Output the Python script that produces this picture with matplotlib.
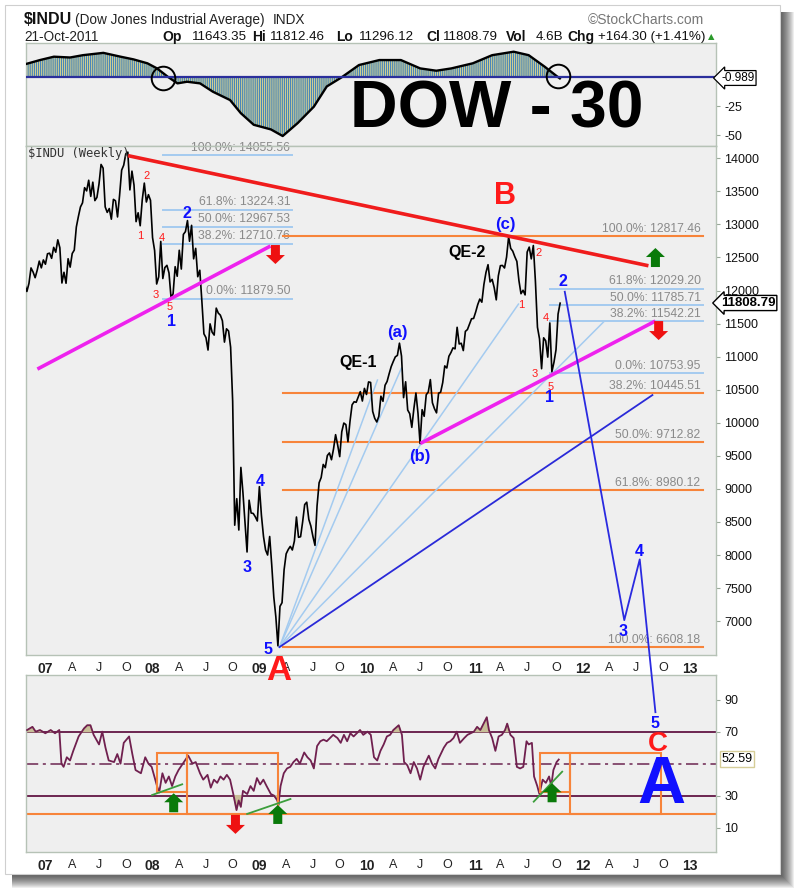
import numpy as np
import pandas as pd
import matplotlib
matplotlib.use('Agg')
import matplotlib.pyplot as plt
from matplotlib.patches import Rectangle, Polygon
from matplotlib import transforms

plt.rcParams['font.family'] = ['Liberation Sans', 'DejaVu Sans']

# ---------------- data ----------------
weekly_close = [
    # 2006 (from 27-Oct)
    12090, 11986, 12108, 12342, 12280, 12194, 12307, 12445, 12343, 12463,
    # 2007
    12398, 12556, 12565, 12487, 12653, 12580, 12767, 12647, 12114, 12276, 12110, 12481, 12354,
    12560, 12612, 12961, 13120, 13264, 13326, 13556, 13507, 13668, 13424, 13639, 13360, 13409,
    13611, 13907, 13851, 13265, 13182, 13240, 13079, 13379, 13358, 13113, 13442, 13821, 13896,
    14066, 14093, 13522, 13806, 13595, 13042, 13176, 12980, 13372, 13625, 13339, 13450, 13365,
    # 2008
    12800, 12606, 12099, 12207, 12743, 12182, 12348, 12381, 12266, 11894, 11951, 12361, 12216,
    12609, 12325, 12849, 12891, 13058, 12745, 12986, 12480, 12638, 12209, 12307, 11843, 11346,
    11288, 11100, 11496, 11370, 11326, 11734, 11659, 11628, 11543, 11220, 11421, 11388, 11143,
    10325, 8451, 8852, 8378, 9325, 8943, 8497, 8046, 8829, 8635, 8629, 8579, 8515,
    # 2009
    9034, 8599, 8281, 8077, 8000, 8280, 7850, 7366, 7063, 6627, 7224, 7279, 7776,
    8018, 8083, 8131, 8076, 8212, 8575, 8268, 8277, 8500, 8763, 8799, 8539, 8438,
    8280, 8146, 8743, 9093, 9172, 9370, 9321, 9505, 9544, 9441, 9605, 9820, 9665,
    9488, 9865, 9996, 9972, 9713, 10023, 10271, 10318, 10310, 10389, 10471, 10329, 10520,
    # 2010
    10428, 10618, 10610, 10173, 10067, 10012, 10099, 10402, 10325, 10567, 10625, 10742, 10850,
    10927, 10997, 11019, 11204, 11009, 10380, 10620, 10193, 10137, 9931, 10212, 10450, 10144,
    9686, 10198, 10098, 10424, 10466, 10653, 10303, 10213, 10150, 10448, 10462, 10607, 10860,
    10829, 11006, 11062, 11133, 11118, 11444, 11192, 11203, 11092, 11382, 11410, 11491, 11573, 11578,
    # 2011
    11675, 11787, 11871, 11824, 12092, 12273, 12391, 12130, 12169, 12044, 11859, 12221,
    12376, 12380, 12341, 12505, 12811, 12638, 12596, 12512, 12441, 12151, 11952, 12004, 11934,
    12582, 12657, 12479, 12681, 12143, 11445, 11269, 10818, 11285, 11240, 10993, 11510, 10771, 10913,
    11103, 11644, 11809,
]
last_date = '2011-10-21'

osc_t = [2006.83, 2006.96, 2007.09, 2007.24, 2007.36, 2007.55, 2007.71, 2007.83, 2007.96, 2008.05,
         2008.15, 2008.24, 2008.33, 2008.45, 2008.57, 2008.73, 2008.83, 2008.95, 2009.11, 2009.22,
         2009.36, 2009.51, 2009.63, 2009.77, 2009.93, 2010.12, 2010.32, 2010.50, 2010.65, 2010.79,
         2010.99, 2011.17, 2011.37, 2011.51, 2011.66, 2011.77, 2011.80]
osc_v = [11.4, 14.8, 17.7, 17.0, 19.0, 21.0, 17.7, 15.4, 12.0, 7.6,
         0.4, -5.3, -3.9, -5.3, -12.5, -19.7, -31.0, -41.0, -45.0, -50.7,
         -39.5, -25.4, -8.0, 0.0, 10.5, 14.8, 14.8, 7.6, 5.6, 7.6,
         12.0, 19.0, 22.0, 19.0, 9.0, 1.0, -0.989]

rsi_t = [2006.84, 2006.89, 2006.92, 2006.96, 2007.01, 2007.06, 2007.10, 2007.14, 2007.16, 2007.18,
         2007.21, 2007.24, 2007.27, 2007.32, 2007.37, 2007.40, 2007.43, 2007.46, 2007.51, 2007.54,
         2007.57, 2007.60, 2007.65, 2007.68, 2007.71, 2007.74, 2007.79, 2007.82, 2007.85, 2007.90,
         2007.94, 2007.97, 2008.00, 2008.05, 2008.07, 2008.10, 2008.13, 2008.16, 2008.19, 2008.22,
         2008.25, 2008.28, 2008.31, 2008.34, 2008.38, 2008.41, 2008.45, 2008.48, 2008.52, 2008.55,
         2008.58, 2008.61, 2008.64, 2008.67, 2008.70, 2008.73, 2008.76, 2008.79, 2008.81, 2008.83,
         2008.85, 2008.89, 2008.92, 2008.95, 2008.98, 2009.01, 2009.04, 2009.07, 2009.11, 2009.14,
         2009.17, 2009.18, 2009.20, 2009.23, 2009.26, 2009.29, 2009.32, 2009.35, 2009.38, 2009.42,
         2009.45, 2009.48, 2009.51, 2009.54, 2009.57, 2009.60, 2009.63, 2009.66, 2009.69, 2009.73,
         2009.76, 2009.79, 2009.82, 2009.85, 2009.88, 2009.91, 2009.94, 2009.97, 2010.01, 2010.04,
         2010.07, 2010.10, 2010.13, 2010.16, 2010.19, 2010.22, 2010.25, 2010.30, 2010.33, 2010.35,
         2010.38, 2010.41, 2010.44, 2010.47, 2010.50, 2010.53, 2010.58, 2010.61, 2010.64, 2010.67,
         2010.72, 2010.75, 2010.78, 2010.81, 2010.84, 2010.87, 2010.91, 2010.94, 2010.97, 2011.00,
         2011.03, 2011.06, 2011.09, 2011.12, 2011.14, 2011.17, 2011.20, 2011.23, 2011.26, 2011.29,
         2011.31, 2011.34, 2011.37, 2011.40, 2011.43, 2011.46, 2011.49, 2011.51, 2011.54, 2011.56,
         2011.59, 2011.61, 2011.64, 2011.67, 2011.70, 2011.72, 2011.74, 2011.77, 2011.79]
rsi_v = [71, 73, 70, 71, 69, 71, 69, 71, 50, 48,
         54, 52, 58, 67, 72, 74, 74, 68, 62, 70,
         60, 52, 51, 56, 50, 63, 67, 56, 46, 44,
         54, 50, 48, 36, 32, 44, 38, 42, 36, 42,
         46, 49, 52, 55, 50, 51, 44, 40, 43, 35,
         40, 38, 42, 40, 43, 40, 31, 21, 27, 23,
         33, 31, 36, 33, 41, 37, 40, 36, 31, 30,
         27, 24, 36, 44, 47, 48, 51, 53, 50, 57,
         54, 52, 47, 61, 64, 65, 64, 66, 68, 66,
         63, 68, 64, 69, 67, 69, 71, 68, 70, 68,
         54, 52, 58, 62, 67, 68, 71, 74, 68, 51,
         49, 44, 51, 47, 40, 48, 55, 50, 47, 53,
         60, 63, 64, 66, 70, 63, 66, 68, 69, 70,
         73, 71, 75, 79, 71, 66, 58, 67, 68, 71,
         75, 68, 66, 48, 47, 48, 64, 62, 63, 42,
         36, 31, 40, 38, 42, 36, 46, 51, 52.59]

fib1_levels = [14055.56, 13224.31, 12967.53, 12710.76, 11879.50]
fib1_names = ['100.0%', '61.8%', '50.0%', '38.2%', '0.0%']
fib1_span = [2008.11, 2009.31]
fib2_levels = [12029.20, 11785.71, 11542.21, 10753.95]
fib2_names = ['61.8%', '50.0%', '38.2%', '0.0%']
fib2_span = [2011.71, 2013.13]
ret_levels = [12817.46, 10445.51, 9712.82, 8980.12, 6608.18]
ret_names = ['100.0%', '38.2%', '50.0%', '61.8%', '100.0%']
ret_span = [2009.22, 2013.13]

red_trend_t = [2007.78, 2012.625]
red_trend_p = [14040, 12375]
mag1_t = [2006.936, 2009.106]
mag1_p = [10812, 12673]
mag2_t = [2010.502, 2012.69]
mag2_p = [9688, 11539]
fan_origin = (2009.19, 6608)
fan_end_t = [2010.102, 2010.325, 2011.415, 2012.206]
fan_end_p = [10646, 10827, 11795, 11523]
fan_dark_end = (2012.662, 10419)
proj_t = [2011.846, 2012.40, 2012.544, 2012.69]
proj_p = [11982, 7015, 7934, 5623]

rsi_boxes = [(2008.054, 2008.333, 32.1, 56.5), (2008.333, 2009.18, 18.6, 56.5),
             (2011.62, 2011.899, 32.1, 56.5), (2011.899, 2012.746, 18.6, 56.5)]
rsi_base = 18.6
div_lines = [([2008.004, 2008.284], [30.4, 37.1]),
             ([2008.889, 2009.292], [18.6, 27.9]),
             ([2011.557, 2011.822], [26.25, 45.0])]

# ---------------- figure ----------------
W, H = 800, 893
fig = plt.figure(figsize=(8, 8.93), dpi=100)
fig.patch.set_facecolor('white')


def prect(x0, y0, x1, y1, **kw):
    r = Rectangle((x0 / W, 1 - y1 / H), (x1 - x0) / W, (y1 - y0) / H,
                  transform=fig.transFigure, **kw)
    fig.add_artist(r)
    return r


def ftext(x, y, s, **kw):
    kw.setdefault('ha', 'center')
    kw.setdefault('va', 'center')
    return fig.text(x / W, 1 - y / H, s, **kw)


# card + shadow
for k in range(14):
    prect(12, 12, 781 + k, 875 + k, facecolor='black', alpha=0.065, edgecolor='none', zorder=-20)
prect(5, 5, 780, 874, facecolor='white', edgecolor='#cfcfcf', lw=0.8, zorder=-10)

XL, XR = 2006.83, 2013.254
panel_bg = '#efefef'
spine_c = '#b6c2b6'


def style(ax):
    ax.set_facecolor(panel_bg)
    for s in ax.spines.values():
        s.set_color(spine_c)
        s.set_linewidth(1.0)
    ax.set_xlim(XL, XR)
    ax.yaxis.tick_right()
    ax.tick_params(axis='y', length=3, color='#9aa89a', labelsize=9, pad=3, labelcolor='#111')
    ax.tick_params(axis='x', length=0)


ax_top = fig.add_axes([26 / W, 1 - 146 / H, 690 / W, 103 / H])
ax_main = fig.add_axes([26 / W, 1 - 655 / H, 690 / W, 509 / H])
ax_rsi = fig.add_axes([26 / W, 1 - 852 / H, 690 / W, 177 / H])
ax_main.set_zorder(2)
for a in (ax_top, ax_main, ax_rsi):
    style(a)

# dates
dates = pd.date_range(end=last_date, periods=len(weekly_close), freq='W-FRI')


def dec_year(ts):
    start = pd.Timestamp(ts.year, 1, 1)
    end = pd.Timestamp(ts.year + 1, 1, 1)
    return ts.year + (ts - start).days / (end - start).days


t_price = np.array([dec_year(d) for d in dates])
price = np.array(weekly_close, dtype=float)

# x ticks: first Friday of each quarter
tick_pos, tick_lab, tick_bold = [], [], []
for yr in range(2007, 2014):
    for m, lab in [(1, None), (4, 'A'), (7, 'J'), (10, 'O')]:
        d = pd.Timestamp(yr, m, 1)
        d = d + pd.Timedelta(days=(4 - d.weekday()) % 7)
        tv = dec_year(d)
        if XL < tv < XR:
            tick_pos.append(tv)
            tick_lab.append('%02d' % (yr % 100) if lab is None else lab)
            tick_bold.append(lab is None)

for a in (ax_top, ax_main, ax_rsi):
    a.set_xticks(tick_pos)
for a in (ax_main, ax_rsi):
    a.set_xticklabels(tick_lab)
    a.tick_params(axis='x', pad=5, labelsize=9, labelcolor='#222')
    for lbl, b in zip(a.get_xticklabels(), tick_bold):
        if b:
            lbl.set_fontweight('bold')
            lbl.set_fontsize(10)
ax_top.set_xticklabels([])

# ---------------- top panel ----------------
plt.rcParams['hatch.linewidth'] = 0.9
ax_top.set_ylim(-59.3, 29.5)
ax_top.fill_between(osc_t, 0, osc_v, facecolor='#e9dc8c', edgecolor='#4a86b8',
                    hatch='|' * 8, linewidth=0, zorder=2)
ax_top.plot(osc_t, osc_v, color='black', lw=1.7, zorder=3)
ax_top.axhline(0, color='#2b2f9c', lw=1.6, zorder=4)
for ct, cv in [(2008.11, -0.7), (2011.78, 1.0)]:
    ax_top.plot([ct], [cv], marker='o', ms=17, mfc='none', mec='black', mew=1.4, zorder=5)
ax_top.set_yticks([-25, -50])
ax_top.set_yticklabels(['-25', '-50'])
ftext(738, 78, '-0.989', fontsize=8.5,
      bbox=dict(boxstyle='larrow,pad=0.12', fc='white', ec='black', lw=0.9))
ftext(497, 110, 'DOW - 30', fontsize=47.5, fontweight='bold', color='black')

# ---------------- main panel ----------------
ax_main.set_ylim(6488, 14186)
ax_main.set_yticks(np.arange(7000, 14001, 500))
ax_main.set_yticklabels([str(v) for v in range(7000, 14001, 500)])
ax_main.plot(t_price, price, color='black', lw=1.2, zorder=3)

orange = '#f7843a'
lightblue = '#a4cbf0'
fibtxt = '#8a8a8a'
for lv, nm in zip(fib1_levels, fib1_names):
    ax_main.plot(fib1_span, [lv, lv], color=lightblue, lw=1.4, zorder=2)
    ax_main.annotate('%s: %.2f' % (nm, lv), (2009.29, lv), xytext=(0, 0.8),
                     textcoords='offset points', ha='right', va='bottom',
                     fontsize=8.7, color=fibtxt, zorder=2)
for lv, nm in zip(fib2_levels, fib2_names):
    ax_main.plot(fib2_span, [lv, lv], color=lightblue, lw=1.4, zorder=2)
    ax_main.annotate('%s: %.2f' % (nm, lv), (2013.11, lv), xytext=(0, 0.8),
                     textcoords='offset points', ha='right', va='bottom',
                     fontsize=8.7, color=fibtxt, zorder=2)
for lv, nm in zip(ret_levels, ret_names):
    ax_main.plot(ret_span, [lv, lv], color=orange, lw=1.5, zorder=2)
    ax_main.annotate('%s: %.2f' % (nm, lv), (2013.11, lv), xytext=(0, 0.8),
                     textcoords='offset points', ha='right', va='bottom',
                     fontsize=8.7, color=fibtxt, zorder=2)

for et, ep in zip(fan_end_t, fan_end_p):
    ax_main.plot([fan_origin[0], et], [fan_origin[1], ep], color=lightblue, lw=1.1, zorder=2)
ax_main.plot([fan_origin[0], fan_dark_end[0]], [fan_origin[1], fan_dark_end[1]],
             color='#2a2ad8', lw=1.3, zorder=2)

ax_main.plot(red_trend_t, red_trend_p, color='#f01c1c', lw=2.6, zorder=4, solid_capstyle='butt')
ax_main.plot(mag1_t, mag1_p, color='#ee22ee', lw=2.6, zorder=4, solid_capstyle='butt')
ax_main.plot(mag2_t, mag2_p, color='#ee22ee', lw=2.6, zorder=4, solid_capstyle='butt')
ax_main.plot(proj_t, proj_p, color='#2a2ae0', lw=1.3, zorder=5, clip_on=False)

ax_main.text(0.003, 0.985, '$INDU (Weekly)', transform=ax_main.transAxes, ha='left', va='center',
             fontsize=8.7, family='DejaVu Sans Mono', color='#333')


def block_arrow(ax, x, y, up, color, hw=9.5, sw=4.5, hh=9.0, L=19.0):
    s = 1 if up else -1
    pts = [(0, 0), (hw, -s * hh), (sw, -s * hh), (sw, -s * L), (-sw, -s * L),
           (-sw, -s * hh), (-hw, -s * hh)]
    pts = [(a / 100.0, b / 100.0) for a, b in pts]
    tr = fig.dpi_scale_trans + transforms.ScaledTranslation(x, y, ax.transData)
    ax.add_patch(Polygon(pts, closed=True, transform=tr, facecolor=color,
                         edgecolor='none', zorder=6, clip_on=False))


block_arrow(ax_main, 2009.152, 12401, False, '#ee1111')
block_arrow(ax_main, 2012.69, 12643, True, '#0a7a0a')
block_arrow(ax_main, 2012.72, 11251, False, '#ee1111')

ftext(748, 303, '11808.79', fontsize=9.5, fontweight='bold',
      bbox=dict(boxstyle='larrow,pad=0.12', fc='white', ec='black', lw=1.0))

# wave labels
red = '#ff1a1a'
blue = '#1010ff'
for (x, y, s) in [(147, 176, '2'), (140, 236, '1'), (162, 238, '4'), (156, 295, '3'), (170, 307, '5'),
                  (521, 305, '1'), (539, 253, '2'), (546, 318, '4'), (535, 374, '3'), (551, 387, '5')]:
    ftext(x, y, s, fontsize=8, color=red)
for (x, y, s) in [(172, 322, '1'), (187, 214, '2'), (247, 567, '3'), (260, 482, '4'), (268, 649, '5'),
                  (550, 398, '1'), (563, 282, '2'), (623, 632, '3'), (639, 552, '4'), (655, 723, '5')]:
    ftext(x, y, s, fontsize=11.5, fontweight='bold', color=blue)
for (x, y, s) in [(397, 333, '(a)'), (420, 457, '(b)'), (505, 225, '(c)')]:
    ftext(x, y, s, fontsize=12, fontweight='bold', color=blue)
for (x, y, s) in [(358, 363, 'QE-1'), (467, 253, 'QE-2')]:
    ftext(x, y, s, fontsize=11.5, fontweight='bold', color='black')
ftext(505, 196, 'B', fontsize=22, fontweight='bold', color=red)
ftext(279, 671, 'A', fontsize=25, fontweight='bold', color=red)

# ---------------- RSI panel ----------------
rt = np.array(rsi_t)
rv = np.array(rsi_v, dtype=float)
ax_rsi.set_ylim(-5.2, 105.4)
ax_rsi.set_yticks([10, 30, 70, 90])
ax_rsi.set_yticklabels(['10', '30', '70', '90'])
maroon = '#6c2550'
ax_rsi.axhline(70, color=maroon, lw=1.4, zorder=2)
ax_rsi.axhline(30, color=maroon, lw=1.4, zorder=2)
ax_rsi.axhline(50, color=maroon, lw=1.1, ls=(0, (8, 3, 2, 3)), zorder=2)
ax_rsi.axhline(rsi_base, color=orange, lw=1.5, zorder=2)
ax_rsi.fill_between(rt, 70, rv, where=rv > 70, interpolate=True, color='#c8bf98', zorder=2)
ax_rsi.fill_between(rt, 30, rv, where=rv < 30, interpolate=True, color='#c8bf98', zorder=2)
ax_rsi.plot(rt, rv, color='#70204f', lw=1.3, zorder=3)
for (x0, x1, y0, y1) in rsi_boxes:
    ax_rsi.add_patch(Rectangle((x0, y0), x1 - x0, y1 - y0, fill=False, edgecolor=orange,
                               lw=1.5, zorder=3))
for xs, ys in div_lines:
    ax_rsi.plot(xs, ys, color='#3c9e3c', lw=1.3, zorder=4)
block_arrow(ax_rsi, 2008.205, 31.5, True, '#0a7a0a')
block_arrow(ax_rsi, 2009.174, 24.2, True, '#0a7a0a')
block_arrow(ax_rsi, 2011.728, 37.75, True, '#0a7a0a')
block_arrow(ax_rsi, 2008.78, 6.1, False, '#ee1111')
ftext(737, 759, '52.59', fontsize=9,
      bbox=dict(boxstyle='square,pad=0.15', fc='white', ec='#d6cd98', lw=1.0))
ftext(658, 744, 'C', fontsize=20, fontweight='bold', color=red)
ftext(661, 786, 'A', fontsize=48, fontweight='bold', color=blue)

# ---------------- header ----------------
ftext(24, 20, '$INDU', ha='left', fontsize=11.5, fontweight='bold', color='#111')
ftext(75, 20, '(Dow Jones Industrial Average)', ha='left', fontsize=9.8, color='#222')
ftext(273, 20, 'INDX', ha='left', fontsize=9.8, color='#222')
ftext(704, 20, '\u00a9StockCharts.com', ha='right', fontsize=10, color='#777')
ftext(24, 37, '21-Oct-2011', ha='left', fontsize=9.8, color='#222')
for x, s, b in [(162, 'Op', True), (192, '11643.35', False), (252, 'Hi', True), (270, '11812.46', False),
                (336, 'Lo', True), (359, '11296.12', False), (426, 'Cl', True), (443, '11808.79', False),
                (506, 'Vol', True), (536, '4.6B', False), (567, 'Chg', True),
                (598, '+164.30 (+1.41%)', False)]:
    ftext(x, 37, s, ha='left', fontsize=10 if b else 9.6,
          fontweight='bold' if b else 'normal', color='#111')
ftext(711, 37, '\u25b2', fontsize=6, color='#2a9a2a', family='DejaVu Sans')

fig.savefig('out.png', dpi=100, facecolor='white')
